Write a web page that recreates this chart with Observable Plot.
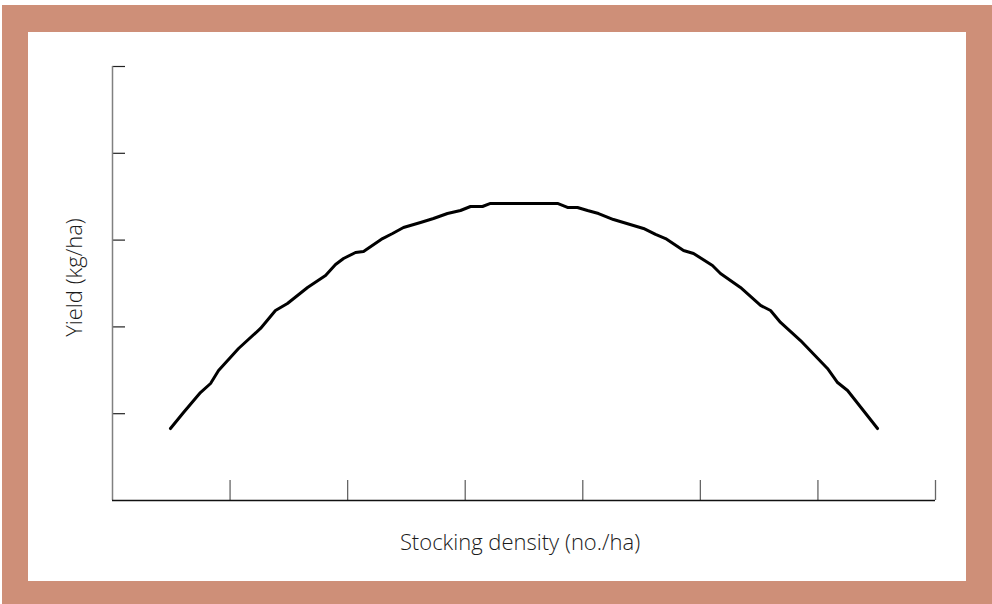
<!DOCTYPE html>
<html>
<head>
<meta charset="utf-8">
<script src="https://cdn.jsdelivr.net/npm/d3@7"></script>
<script src="https://cdn.jsdelivr.net/npm/@observablehq/plot@0.6"></script>
<style>
  html, body { margin: 0; padding: 0; background: #ffffff; }
  #frame {
    position: absolute; left: 2px; top: 5px;
    width: 938px; height: 549px;
    border-style: solid; border-color: #ce8f78;
    border-width: 27px 26px 23px 26px;
    background: #ffffff;
  }
  #frame svg { display: block; }
</style>
</head>
<body>
<div id="frame"></div>
<script>
// Stocking density (arbitrary units along x axis) and yield (arbitrary units)
const density = [0.493,0.604,0.748,0.834,0.902,1.072,1.259,1.386,1.488,1.659,1.812,1.897,1.965,2.067,2.135,2.297,2.382,2.475,2.620,2.730,2.849,2.960,3.045,3.147,3.215,3.785,3.870,3.955,4.040,4.134,4.261,4.346,4.516,4.619,4.704,4.857,4.942,5.103,5.171,5.341,5.512,5.597,5.682,5.852,6.081,6.167,6.252,6.507];
const yieldVals = [0.829,1.014,1.244,1.348,1.498,1.751,1.982,2.189,2.270,2.454,2.592,2.719,2.788,2.857,2.869,3.018,3.076,3.145,3.203,3.249,3.306,3.341,3.387,3.387,3.422,3.422,3.376,3.376,3.341,3.306,3.237,3.203,3.134,3.065,3.018,2.880,2.846,2.707,2.615,2.454,2.247,2.189,2.051,1.843,1.521,1.359,1.267,0.829];
const xTicks = [1,2,3,4,5,6,7];
const yTicks = [1,2,3,4,5];
const xLabel = "Stocking density (no./ha)";
const yLabel = "Yield (kg/ha)";

const data = density.map((d, i) => ({x: d, y: yieldVals[i]}));

const chart = Plot.plot({
  width: 938,
  height: 549,
  marginLeft: 84,
  marginRight: 31,
  marginTop: 34,
  marginBottom: 81,
  style: {fontFamily: "'Open Sans', Lato, sans-serif", background: "#ffffff"},
  x: {domain: [0, 7]},
  y: {domain: [0, 5]},
  marks: [
    Plot.axisX({ticks: xTicks, tickSize: -20, tickFormat: () => "", stroke: "#666", strokeWidth: 1.3, label: null}),
    Plot.axisY({ticks: yTicks, tickSize: -13, tickFormat: () => "", stroke: "#222", strokeWidth: 1.2, label: null}),
    Plot.ruleX([0], {stroke: "#808080", strokeWidth: 1.5}),
    Plot.ruleY([0], {stroke: "#111", strokeWidth: 1.3}),
    Plot.line(data, {x: "x", y: "y", stroke: "#000", strokeWidth: 3, strokeLinejoin: "round", strokeLinecap: "round"}),
    Plot.text([xLabel], {frameAnchor: "bottom", dx: -4, dy: 42, fontSize: 22, fontWeight: 300, fill: "#1a1a1a", textAnchor: "middle", lineAnchor: "middle", text: d => d}),
    Plot.text([yLabel], {frameAnchor: "left", dx: -38, dy: -6, rotate: -90, fontSize: 22, fontWeight: 300, fill: "#1a1a1a", textAnchor: "middle", lineAnchor: "middle", text: d => d})
  ]
});
document.getElementById("frame").appendChild(chart);
</script>
</body>
</html>
